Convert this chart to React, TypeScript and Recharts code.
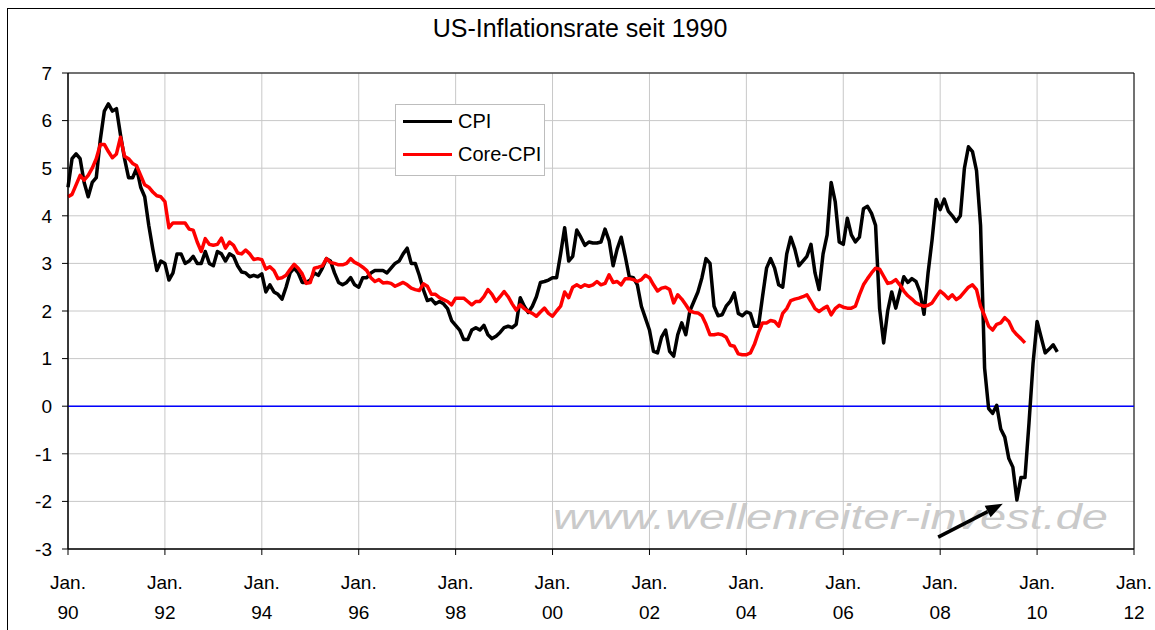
import React from "react";
import {
  LineChart,
  Line,
  XAxis,
  YAxis,
  CartesianGrid,
  ReferenceLine,
  ReferenceArea,
  Legend,
} from "recharts";

const FONT = '"Liberation Sans", Arial, Helvetica, sans-serif';

// one value per month, index 0 = Dec 1989
const cpi: number[] = [
  4.6,
  // 1990
  5.2, 5.3, 5.2, 4.7, 4.4, 4.7, 4.8, 5.6, 6.2, 6.35, 6.2, 6.25,
  // 1991
  5.7, 5.2, 4.8, 4.8, 5.0, 4.6, 4.4, 3.8, 3.3, 2.85, 3.05, 3.0,
  // 1992
  2.65, 2.8, 3.2, 3.2, 3.0, 3.05, 3.15, 3.0, 3.0, 3.25, 3.0, 2.95,
  // 1993
  3.25, 3.2, 3.05, 3.2, 3.15, 2.95, 2.82, 2.8, 2.72, 2.75, 2.72, 2.78,
  // 1994
  2.4, 2.55, 2.4, 2.35, 2.25, 2.5, 2.8, 2.9, 2.8, 2.6, 2.6, 2.65,
  // 1995
  2.8, 2.75, 2.9, 3.1, 3.05, 2.8, 2.6, 2.55, 2.6, 2.7, 2.55, 2.5,
  // 1996
  2.7, 2.7, 2.8, 2.85, 2.85, 2.85, 2.8, 2.9, 3.0, 3.05, 3.2, 3.32,
  // 1997
  3.0, 3.0, 2.75, 2.45, 2.22, 2.25, 2.15, 2.2, 2.15, 2.05, 1.8, 1.7,
  // 1998
  1.6, 1.4, 1.4, 1.6, 1.65, 1.6, 1.7, 1.5, 1.42, 1.47, 1.55, 1.65,
  // 1999
  1.68, 1.65, 1.72, 2.28, 2.1, 1.97, 2.1, 2.3, 2.6, 2.62, 2.65, 2.7,
  // 2000
  2.7, 3.2, 3.75, 3.05, 3.15, 3.7, 3.55, 3.38, 3.45, 3.43, 3.43, 3.45,
  // 2001
  3.72, 3.48, 2.95, 3.3, 3.55, 3.15, 2.72, 2.7, 2.55, 2.1, 1.85, 1.6,
  // 2002
  1.15, 1.12, 1.45, 1.6, 1.15, 1.05, 1.5, 1.75, 1.5, 2.0, 2.2, 2.4,
  // 2003
  2.7, 3.1, 3.0, 2.1, 1.9, 1.92, 2.1, 2.2, 2.38, 1.95, 1.9, 1.98,
  // 2004
  1.95, 1.68, 1.68, 2.3, 2.9, 3.1, 2.9, 2.55, 2.5, 3.2, 3.55, 3.3,
  // 2005
  2.95, 3.05, 3.15, 3.4, 2.8, 2.45, 3.2, 3.6, 4.7, 4.3, 3.45, 3.4,
  // 2006
  3.95, 3.6, 3.45, 3.55, 4.15, 4.2, 4.05, 3.8, 2.05, 1.33, 2.0, 2.4,
  // 2007
  2.06, 2.4, 2.72, 2.6, 2.68, 2.62, 2.4, 1.93, 2.8, 3.5, 4.34, 4.13,
  // 2008
  4.35, 4.1, 4.0, 3.88, 4.0, 5.0, 5.45, 5.35, 4.95, 3.8, 0.8, -0.05,
  // 2009
  -0.15, 0.02, -0.48, -0.65, -1.1, -1.28, -1.97, -1.5, -1.5, -0.35, 0.9, 1.78,
  // 2010
  1.45, 1.12, 1.2, 1.29, 1.14,
];

const coreCpi: number[] = [
  4.4,
  // 1990
  4.45, 4.65, 4.85, 4.75, 4.85, 5.0, 5.2, 5.5, 5.5, 5.35, 5.22, 5.3,
  // 1991
  5.65, 5.25, 5.2, 5.1, 5.05, 4.85, 4.65, 4.6, 4.5, 4.42, 4.4, 4.3,
  // 1992
  3.75, 3.85, 3.85, 3.85, 3.85, 3.72, 3.7, 3.45, 3.25, 3.52, 3.4, 3.38,
  // 1993
  3.4, 3.53, 3.32, 3.45, 3.38, 3.22, 3.2, 3.28, 3.2, 3.08, 3.1, 3.08,
  // 1994
  2.88, 2.93, 2.85, 2.68, 2.7, 2.75, 2.87, 2.98, 2.9, 2.78, 2.58, 2.6,
  // 1995
  2.9, 2.92, 2.95, 3.1, 3.02, 3.0, 2.97, 2.97, 3.0, 3.1, 3.02, 2.98,
  // 1996
  2.92, 2.85, 2.7, 2.62, 2.66, 2.59, 2.6, 2.58, 2.52, 2.56, 2.6, 2.55,
  // 1997
  2.48, 2.45, 2.43, 2.57, 2.52, 2.35, 2.35, 2.28, 2.24, 2.2, 2.13, 2.27,
  // 1998
  2.27, 2.27, 2.2, 2.13, 2.2, 2.2, 2.3, 2.45, 2.35, 2.2, 2.3, 2.41,
  // 1999
  2.3, 2.15, 2.02, 2.13, 2.05, 1.99, 1.95, 1.89, 1.98, 2.06, 1.95, 1.89,
  // 2000
  2.0, 2.1, 2.4, 2.28, 2.5, 2.55, 2.5, 2.55, 2.52, 2.55, 2.62, 2.55,
  // 2001
  2.58, 2.76, 2.6, 2.62, 2.55, 2.68, 2.68, 2.66, 2.62, 2.66, 2.75, 2.7,
  // 2002
  2.55, 2.42, 2.48, 2.5, 2.45, 2.17, 2.34, 2.25, 2.13, 2.0, 1.97, 1.96,
  // 2003
  1.9, 1.72, 1.5, 1.5, 1.52, 1.5, 1.45, 1.28, 1.26, 1.1, 1.08, 1.08,
  // 2004
  1.12, 1.3, 1.55, 1.75, 1.75, 1.8, 1.78, 1.68, 1.95, 2.05, 2.22, 2.25,
  // 2005
  2.27, 2.3, 2.34, 2.2, 2.05, 1.99, 2.05, 2.1, 1.92, 2.05, 2.12, 2.08,
  // 2006
  2.06, 2.06, 2.1, 2.34, 2.55, 2.68, 2.8, 2.9, 2.88, 2.73, 2.58, 2.6,
  // 2007
  2.66, 2.55, 2.42, 2.32, 2.25, 2.17, 2.13, 2.1, 2.12, 2.17, 2.3, 2.42,
  // 2008
  2.35, 2.26, 2.34, 2.24, 2.3, 2.4, 2.5, 2.55, 2.45, 2.1, 1.9, 1.68,
  // 2009
  1.6, 1.72, 1.75, 1.86, 1.78, 1.6, 1.5, 1.42, 1.33,
];

const xTicks = [0, 24, 48, 72, 96, 120, 144, 168, 192, 216, 240, 264];
const xTickYears = ["90", "92", "94", "96", "98", "00", "02", "04", "06", "08", "10", "12"];
const yTicks = [-3, -2, -1, 0, 1, 2, 3, 4, 5, 6, 7];

// arrow pointing at the 2009 low (month index, value)
const arrowFrom = { m: 215.5, v: -2.75 };
const arrowTo = { m: 231.5, v: -2.05 };

const data = cpi.map((v, i) => ({
  m: i,
  cpi: v,
  core: i < coreCpi.length ? coreCpi[i] : null,
}));

const XTick = ({ x, y, payload }: any) => {
  const idx = xTicks.indexOf(payload.value);
  return (
    <g transform={`translate(${x},${y})`}>
      <text textAnchor="middle" fontSize={19} fontFamily={FONT} fill="#000">
        <tspan x={0} y={32}>Jan.</tspan>
        <tspan x={0} y={62}>{xTickYears[idx]}</tspan>
      </text>
    </g>
  );
};

const ArrowShape = (props: any) => {
  const { x1, y1, x2, y2 } = props;
  const ang = Math.atan2(y2 - y1, x2 - x1);
  const len = 17;
  const half = 6.5;
  const bx = x2 - len * Math.cos(ang);
  const by = y2 - len * Math.sin(ang);
  const px = -Math.sin(ang) * half;
  const py = Math.cos(ang) * half;
  return (
    <g>
      <line x1={x1} y1={y1} x2={bx} y2={by} stroke="#000" strokeWidth={3.5} />
      <polygon
        points={`${x2},${y2} ${bx + px},${by + py} ${bx - px},${by - py}`}
        fill="#000"
      />
    </g>
  );
};

const LegendBox = ({ payload }: any) => (
  <div
    style={{
      position: "relative",
      width: 150,
      height: 72,
      boxSizing: "border-box",
      border: "1px solid #bdbdbd",
      background: "#fff",
      fontFamily: FONT,
      fontSize: 20,
      color: "#000",
    }}
  >
    {(payload || []).map((p: any, i: number) => (
      <div
        key={i}
        style={{
          position: "absolute",
          left: 7,
          top: 3 + i * 33,
          height: 26,
          display: "flex",
          alignItems: "center",
          whiteSpace: "nowrap",
        }}
      >
        <span
          style={{
            display: "inline-block",
            width: 49,
            borderTop: `3.5px solid ${p.color}`,
          }}
        />
        <span style={{ marginLeft: 6 }}>{p.value}</span>
      </div>
    ))}
  </div>
);

export default function App() {
  return (
    <div
      style={{
        position: "absolute",
        left: 0,
        top: 0,
        width: 1155,
        height: 630,
        overflow: "hidden",
        background: "#fff",
      }}
    >
      {/* outer frame */}
      <div
        style={{
          position: "absolute",
          left: 7,
          top: 8,
          width: 1170,
          height: 660,
          border: "1px solid #000",
        }}
      />
      <div
        style={{
          position: "absolute",
          left: 0,
          top: 14,
          width: 1160,
          textAlign: "center",
          fontFamily: FONT,
          fontSize: 25,
          color: "#000",
        }}
      >
        US-Inflationsrate seit 1990
      </div>
      <svg
        width={1155}
        height={630}
        style={{ position: "absolute", left: 0, top: 0 }}
      >
        <text
          x={553}
          y={529}
          fontFamily={FONT}
          fontSize={35}
          fontStyle="italic"
          fill="#cacaca"
          textLength={555}
          lengthAdjust="spacingAndGlyphs"
        >
          www.wellenreiter-invest.de
        </text>
      </svg>
      <div style={{ position: "absolute", left: 0, top: 0 }}>
        <LineChart
          width={1155}
          height={630}
          data={data}
          margin={{ top: 73, right: 21, left: 8, bottom: 11 }}
        >
          <CartesianGrid stroke="#c8c8c8" strokeWidth={1} />
          <XAxis
            dataKey="m"
            type="number"
            domain={[0, 264]}
            ticks={xTicks}
            interval={0}
            height={70}
            tickSize={6}
            tick={<XTick />}
            axisLine={{ stroke: "#000" }}
            tickLine={{ stroke: "#000" }}
          />
          <YAxis
            type="number"
            domain={[-3, 7]}
            ticks={yTicks}
            interval={0}
            width={60}
            tickSize={6}
            tickMargin={10}
            tick={{ fontSize: 19, fill: "#000", fontFamily: FONT }}
            axisLine={{ stroke: "#000" }}
            tickLine={{ stroke: "#000" }}
          />
          <ReferenceArea
            x1={0}
            x2={264}
            y1={-3}
            y2={7}
            fill="none"
            stroke="#000"
            strokeWidth={1}
            ifOverflow="visible"
          />
          <ReferenceLine y={0} stroke="#0000ff" strokeWidth={1.5} />
          <ReferenceLine
            segment={[
              { x: arrowFrom.m, y: arrowFrom.v },
              { x: arrowTo.m, y: arrowTo.v },
            ]}
            shape={ArrowShape}
            ifOverflow="visible"
          />
          <Legend
            layout="vertical"
            align="center"
            verticalAlign="middle"
            wrapperStyle={{ left: 395, top: 104, width: 150, height: 72 }}
            content={<LegendBox />}
          />
          <Line
            type="linear"
            dataKey="cpi"
            name="CPI"
            stroke="#000"
            strokeWidth={3.5}
            dot={false}
            strokeLinejoin="round"
            isAnimationActive={false}
          />
          <Line
            type="linear"
            dataKey="core"
            name="Core-CPI"
            stroke="#ff0000"
            strokeWidth={3.5}
            dot={false}
            strokeLinejoin="round"
            isAnimationActive={false}
          />
        </LineChart>
      </div>
    </div>
  );
}
